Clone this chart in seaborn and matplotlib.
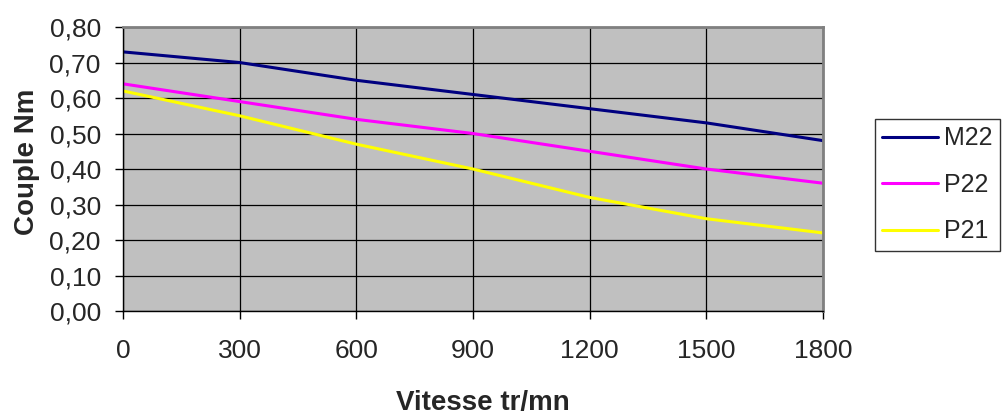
import matplotlib
matplotlib.use("Agg")
import matplotlib.pyplot as plt
import seaborn as sns
import pandas as pd
from matplotlib.ticker import FuncFormatter

# data
vitesse = [0, 300, 600, 900, 1200, 1500, 1800]
m22 = [0.73, 0.70, 0.65, 0.61, 0.57, 0.53, 0.48]
p22 = [0.64, 0.59, 0.54, 0.50, 0.45, 0.40, 0.36]
p21 = [0.62, 0.55, 0.47, 0.40, 0.32, 0.26, 0.22]
series = ["M22", "P22", "P21"]
colors = {"M22": "#000080", "P22": "#FF00FF", "P21": "#FFFF00"}

df = pd.DataFrame({"Vitesse": vitesse, "M22": m22, "P22": p22, "P21": p21})
long_df = df.melt(id_vars="Vitesse", value_vars=series, var_name="Moteur", value_name="Couple")

sns.set_style("ticks")
plt.rcParams["font.family"] = ["Liberation Sans", "DejaVu Sans"]

fig = plt.figure(figsize=(10.04, 4.16), dpi=100)
ax = fig.add_axes([0.1225, 0.2524, 0.6972, 0.6826])
ax.set_facecolor("#C0C0C0")

sns.lineplot(data=long_df, x="Vitesse", y="Couple", hue="Moteur",
             hue_order=series, palette=colors, linewidth=2.2, ax=ax, legend=False)

ax.set_xlim(0, 1800)
ax.set_ylim(0, 0.80)
ax.set_xticks(vitesse)
ax.set_yticks([i / 10 for i in range(9)])
ax.yaxis.set_major_formatter(FuncFormatter(lambda v, p: f"{v:.2f}".replace(".", ",")))
ax.grid(True, color="black", linewidth=0.9)
ax.set_axisbelow(True)

for side in ["top", "right"]:
    ax.spines[side].set_visible(True)
    ax.spines[side].set_color("#808080")
    ax.spines[side].set_linewidth(2)
for side in ["left", "bottom"]:
    ax.spines[side].set_color("black")
    ax.spines[side].set_linewidth(1)

ax.tick_params(axis="both", labelsize=19, length=6, width=1, color="black")
ax.tick_params(axis="y", pad=10)
ax.tick_params(axis="x", pad=14)

ax.set_xlabel("Vitesse tr/mn", fontsize=20, fontweight="bold")
ax.set_ylabel("Couple Nm", fontsize=20, fontweight="bold")
ax.xaxis.set_label_coords(0.514, -0.278)
ax.yaxis.set_label_coords(-0.118, 0.526)

handles = [plt.Line2D([], [], color=colors[s], linewidth=2.2) for s in series]
leg = fig.legend(handles, series, loc="upper left", bbox_to_anchor=(0.8715, 0.714),
                 fontsize=18, frameon=True, fancybox=False, edgecolor="black",
                 handlelength=2.24, handletextpad=0.24, borderpad=0.3, labelspacing=0.9,
                 borderaxespad=0)
leg.get_frame().set_linewidth(1)

fig.savefig("out.png", dpi=100)
